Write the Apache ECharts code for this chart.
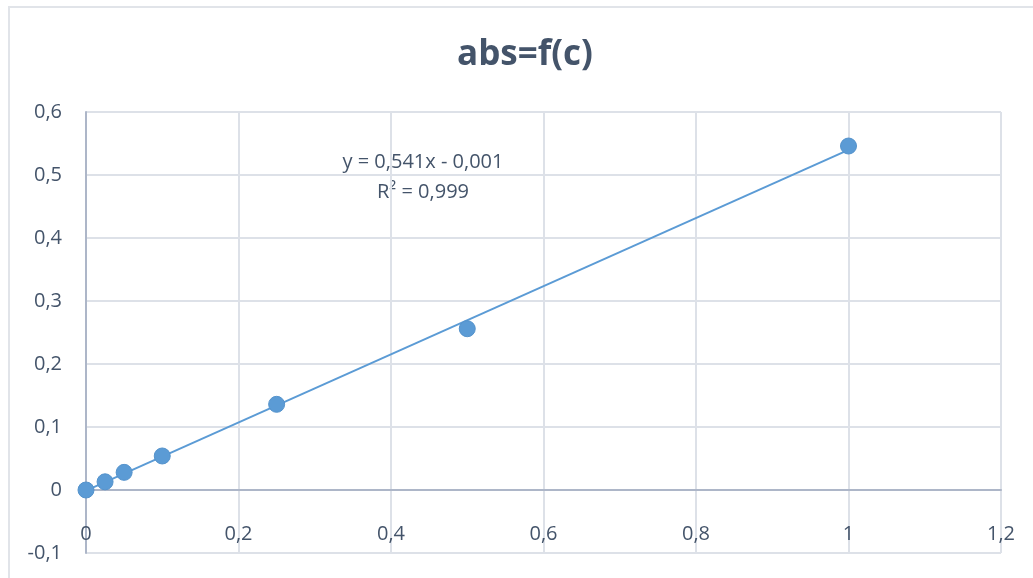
<!DOCTYPE html>
<html>
<head>
<meta charset="utf-8">
<script src="https://cdn.jsdelivr.net/npm/echarts@6/dist/echarts.min.js"></script>
<style>
  html, body { margin: 0; padding: 0; background: #ffffff; }
  #chart { width: 1033px; height: 578px; }
</style>
</head>
<body>
<div id="chart"></div>
<script>
// Calibration: concentration vs. absorbance
const concentrations = [0, 0.025, 0.05, 0.1, 0.25, 0.5, 1];
const absorbances = [0, 0.013, 0.028, 0.054, 0.136, 0.256, 0.546];

// Linear fit shown on the chart
const fitSlope = 0.541;
const fitIntercept = -0.001;
const fitR2 = 0.999;
const fitRange = [0, 1];

const textColor = '#44546a';
const fontFamily = '"Open Sans", "Noto Sans", sans-serif';
const fmt = v => String(Math.round(v * 1000) / 1000).replace('.', ',');

const points = concentrations.map((c, i) => [c, absorbances[i]]);
const fitLine = fitRange.map(x => [x, fitSlope * x + fitIntercept]);

const chart = echarts.init(document.getElementById('chart'), null, { renderer: 'canvas' });
chart.setOption({
  animation: false,
  backgroundColor: '#ffffff',
  title: {
    text: 'abs=f(c)',
    left: 452,
    top: 33,
    textStyle: { color: textColor, fontSize: 35, fontWeight: 'bold', fontFamily: fontFamily }
  },
  graphic: [
    {
      type: 'rect',
      shape: { x: 9, y: 7, width: 1040, height: 600 },
      style: { fill: 'none', stroke: '#e1e4e9', lineWidth: 2 },
      silent: true
    },
    {
      type: 'text',
      x: 423,
      y: 147,
      style: {
        text: 'y = ' + fmt(fitSlope) + 'x - ' + fmt(Math.abs(fitIntercept)) + '\nR² = ' + fmt(fitR2),
        align: 'center',
        verticalAlign: 'top',
        font: '20px ' + fontFamily,
        fill: textColor,
        lineHeight: 30
      }
    }
  ],
  grid: { left: 86, right: 32, top: 112, bottom: 25, containLabel: false, outerBoundsMode: 'none' },
  xAxis: {
    type: 'value',
    min: 0,
    max: 1.2,
    interval: 0.2,
    axisLine: { show: true, onZero: true, lineStyle: { color: '#adb6c8', width: 2 } },
    axisTick: { show: false },
    splitLine: { show: true, lineStyle: { color: '#dde1e8', width: 2 } },
    axisLabel: {
      // labels sit just under the zero line, inside the plot's lower band
      margin: -29,
      color: textColor,
      fontSize: 20,
      fontFamily: fontFamily,
      formatter: v => fmt(v)
    }
  },
  yAxis: {
    type: 'value',
    min: -0.1,
    max: 0.6,
    interval: 0.1,
    axisLine: { show: true, onZero: false, lineStyle: { color: '#adb6c8', width: 2 } },
    axisTick: { show: false },
    splitLine: { show: true, lineStyle: { color: '#dde1e8', width: 2 } },
    axisLabel: {
      margin: 24,
      color: textColor,
      fontSize: 20,
      fontFamily: fontFamily,
      formatter: v => fmt(v)
    }
  },
  series: [
    {
      name: 'fit',
      type: 'line',
      data: fitLine,
      symbol: 'none',
      lineStyle: { color: '#5b9bd5', width: 2 },
      z: 2
    },
    {
      name: 'abs',
      type: 'scatter',
      data: points,
      symbol: 'circle',
      symbolSize: 16,
      itemStyle: { color: '#5b9bd5', opacity: 1, borderColor: '#5593cc', borderWidth: 1 },
      z: 3
    }
  ]
});
</script>
</body>
</html>
